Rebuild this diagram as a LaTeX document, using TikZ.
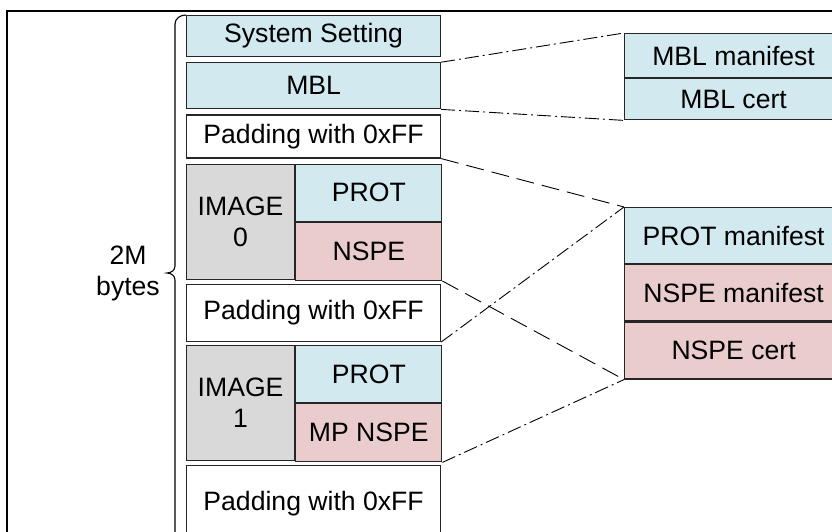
\documentclass[tikz,border=0pt]{standalone}
\usepackage{fontspec}
\setmainfont{Liberation Sans}
\usepackage[rgb]{xcolor}
\usetikzlibrary{positioning}

\definecolor{cfgblue}{RGB}{209,233,239}
\definecolor{nspepink}{RGB}{234,204,204}
\definecolor{imggray}{RGB}{217,217,217}
\definecolor{edge}{RGB}{38,38,38}

\begin{document}
\begin{tikzpicture}[x=1pt, y=-1pt,
    every node/.style={font=\fontsize{26.6}{31}\selectfont, inner sep=0pt, align=center},
    blk/.style={draw=edge, line width=1.2pt, minimum width=254pt},
    half/.style={draw=edge, line width=1.2pt, minimum width=146pt},
    meta/.style={draw=edge, line width=1.2pt, minimum width=218pt, fill=cfgblue},
    dashdot/.style={line width=0.9pt, dash pattern=on 14pt off 4pt on 2pt off 4pt},
    longdash/.style={line width=0.9pt, dash pattern=on 18pt off 8pt}]

    \useasboundingbox (0,0) rectangle (832,532);

    % outer frame (cut by the page)
    \draw[line width=1.6pt] (7,545) |- (845,11);

    % flash layout
    \node[blk, fill=cfgblue, minimum height=41pt, anchor=north west] (ss) at (186,15) {System Setting};
    \node[blk, fill=cfgblue, minimum height=46pt, below=5pt of ss] (mbl) {MBL};
    \node[blk, fill=white, minimum height=43pt, below=5pt of mbl] (padA) {Padding with 0xFF};

    \node[draw=edge, line width=1.2pt, fill=imggray, minimum width=108pt, minimum height=115pt,
        below=5pt of padA.south west, anchor=north west] (imgA) {IMAGE\\0};
    \node[half, fill=cfgblue, minimum height=57pt,
        right=0pt of imgA.north east, anchor=north west] (protA) {PROT};
    \node[half, fill=nspepink, minimum height=58pt, below=0pt of protA] (nspeA) {NSPE};

    \node[blk, fill=white, minimum height=57pt,
        below=4pt of imgA.south west, anchor=north west] (padB) {Padding with 0xFF};

    \node[draw=edge, line width=1.2pt, fill=imggray, minimum width=108pt, minimum height=115pt,
        below=3pt of padB.south west, anchor=north west] (imgB) {IMAGE\\1};
    \node[half, fill=cfgblue, minimum height=57pt,
        right=0pt of imgB.north east, anchor=north west] (protB) {PROT};
    \node[half, fill=nspepink, minimum height=58pt, below=0pt of protB] (mpnspe) {MP NSPE};

    \node[blk, fill=white, minimum height=76pt,
        below=4pt of imgB.south west, anchor=north west] (padC) {Padding with 0xFF};

    % size brace
    \draw[line width=1.1pt] (ss.north west) to[out=180, in=90] (175,24) -- (175,266)
        to[out=-90, in=0] (167,273) to[out=0, in=90] (175,280) -- (175,545);
    \node (size) at (128,273) {2M\\bytes};

    % manifests and certificates
    \node[meta, minimum height=44pt, anchor=north west] (mblman) at (624,33) {MBL manifest};
    \node[meta, minimum height=41pt, below=0pt of mblman] (mblcert) {MBL cert};

    \node[meta, minimum height=56pt, anchor=north west] (protman) at (624,207) {PROT manifest};
    \node[meta, fill=nspepink, minimum height=56pt, below=0pt of protman] (nspeman) {NSPE manifest};
    \node[meta, fill=nspepink, minimum height=57pt, below=0pt of nspeman] (nspecert) {NSPE cert};

    % links
    \draw[dashdot] (mbl.north east) -- (mblman.north west);
    \draw[dashdot] (mbl.south east) -- (mblcert.south west);
    \draw[longdash] (padA.south east) -- (protman.north west);
    \draw[longdash] (nspeA.south east) -- (nspecert.south west);
    \draw[dashdot] (padB.south east) -- (protman.north west);
    \draw[dashdot] (mpnspe.south east) -- (nspecert.south west);
\end{tikzpicture}
\end{document}
